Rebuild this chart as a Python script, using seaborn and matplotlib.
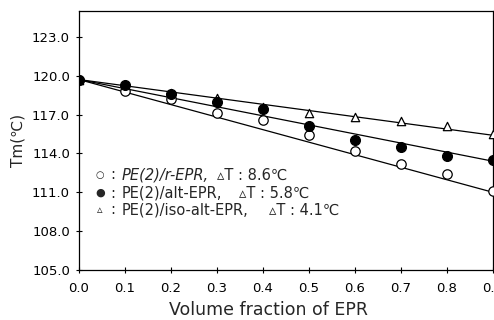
import pandas as pd
import seaborn as sns
import matplotlib.pyplot as plt

# Tm vs volume fraction of EPR for three PE(2) blends
frac = [0.0, 0.1, 0.2, 0.3, 0.4, 0.5, 0.6, 0.7, 0.8, 0.9]
tm_r = [119.7, 118.8, 118.2, 117.1, 116.6, 115.4, 114.2, 113.2, 112.4, 111.1]
tm_alt = [119.7, 119.3, 118.6, 118.0, 117.4, 116.1, 115.0, 114.5, 113.8, 113.5]
tm_iso = [119.7, 119.3, 118.7, 118.3, 117.6, 117.1, 116.8, 116.5, 116.1, 115.5]

# straight guide lines drawn through each series (start / end)
fit_x = [0.0, 0.9]
fit_r = [119.7, 111.0]
fit_alt = [119.7, 113.4]
fit_iso = [119.7, 115.4]

names = ["PE(2)/r-EPR,", "PE(2)/alt-EPR,", "PE(2)/iso-alt-EPR,"]
delta_t = ["\u25b5T : 8.6\u2103", "\u25b5T : 5.8\u2103", "\u25b5T : 4.1\u2103"]

xticks = [0.0, 0.1, 0.2, 0.3, 0.4, 0.5, 0.6, 0.7, 0.8, 0.9]
yticks = [105.0, 108.0, 111.0, 114.0, 117.0, 120.0, 123.0]

df = pd.DataFrame({"frac": frac, "r": tm_r, "alt": tm_alt, "iso": tm_iso})
lines = pd.DataFrame({"x": fit_x, "r": fit_r, "alt": fit_alt, "iso": fit_iso})

sns.set_theme(style="ticks")
plt.rcParams["font.family"] = ["DejaVu Sans"]

fig = plt.figure(figsize=(4.94, 3.2), dpi=100)
ax = fig.add_axes([0.160, 0.156, 0.838, 0.810])

for col in ["r", "alt", "iso"]:
    sns.lineplot(data=lines, x="x", y=col, ax=ax, color="black", lw=0.9)

sns.scatterplot(data=df, x="frac", y="iso", ax=ax, marker="^", s=36,
                facecolor="white", edgecolor="black", linewidth=0.9, zorder=3)
sns.scatterplot(data=df, x="frac", y="r", ax=ax, marker="o", s=46,
                facecolor="white", edgecolor="black", linewidth=0.9, zorder=4)
sns.scatterplot(data=df, x="frac", y="alt", ax=ax, marker="o", s=50,
                facecolor="black", edgecolor="black", linewidth=0.9, zorder=5)

ax.set_xlim(0.0, 0.9)
ax.set_ylim(105.0, 125.0)
ax.set_xticks(xticks)
ax.set_yticks(yticks)
ax.set_xticklabels([f"{v:.1f}" for v in xticks])
ax.set_yticklabels([f"{v:.1f}" for v in yticks])
ax.tick_params(axis="both", direction="inout", length=5, width=0.8,
               labelsize=9.5, colors="black")
ax.tick_params(axis="x", pad=6)
ax.tick_params(axis="y", pad=4)
for sp in ax.spines.values():
    sp.set_visible(True)
    sp.set_color("black")
    sp.set_linewidth(0.9)

ax.set_xlabel("Volume fraction of EPR", fontsize=12.5)
ax.xaxis.set_label_coords(0.457, -0.118)
ax.set_ylabel("Tm(\u2103)", fontsize=11, labelpad=5)

# hand-made legend inside the axes
sym = ["\u25cb", "\u25cf", "\u25b5"]
sym_size = [7, 8, 8]
row_y = [0.367, 0.297, 0.232]
dt_x = [0.333, 0.386, 0.459]
for i in range(3):
    ax.text(0.051, row_y[i], sym[i], transform=ax.transAxes, fontsize=sym_size[i],
            ha="center", va="center")
    ax.text(0.082, row_y[i], ":", transform=ax.transAxes, fontsize=10.5,
            ha="center", va="center")
    ax.text(0.104, row_y[i], names[i], transform=ax.transAxes, fontsize=10.5,
            va="center", style="italic" if i == 0 else "normal")
    ax.text(dt_x[i], row_y[i], delta_t[i], transform=ax.transAxes, fontsize=10.5,
            va="center")

fig.savefig("out.png", dpi=100)
